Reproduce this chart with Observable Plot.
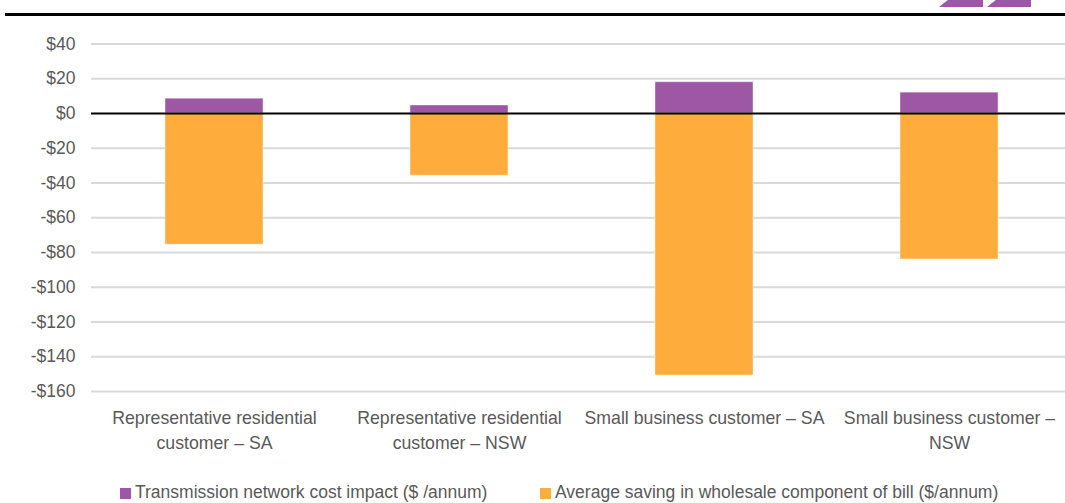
<!DOCTYPE html>
<html><head><meta charset="utf-8">
<script src="https://cdn.jsdelivr.net/npm/d3@7"></script>
<script src="https://cdn.jsdelivr.net/npm/@observablehq/plot@0.6"></script>
<style>
body{margin:0;background:#fff;font-family:"Liberation Sans",Arial,sans-serif;}
#wrap{position:relative;width:1065px;height:503px;overflow:hidden;}
#topline{position:absolute;left:5px;top:13px;width:1060px;height:3px;background:#000;}
.logo{position:absolute;top:0;height:7px;background:#9e57a4;}
#chart{position:absolute;left:0;top:0;}
#legend{position:absolute;top:482px;left:0;width:1065px;font-size:17.5px;color:#595959;}
.li{position:absolute;white-space:nowrap;line-height:20px;}
.sw{display:inline-block;width:11px;height:11px;margin-right:4px;vertical-align:-1px;}
</style></head>
<body>
<div id="wrap">
  <div id="chart"></div>
  <div id="topline"></div>
  <div class="logo" style="left:939px;width:44px;clip-path:polygon(20% 0,100% 0,100% 100%,0 100%)"></div>
  <div class="logo" style="left:987px;width:44px;clip-path:polygon(20% 0,100% 0,100% 100%,0 100%)"></div>
  <div id="legend"></div>
</div>
<script>
const categories = [
  "Representative residential\ncustomer – SA",
  "Representative residential\ncustomer – NSW",
  "Small business customer – SA",
  "Small business customer –\nNSW"
];
const seriesNames = [
  "Transmission network cost impact ($ /annum)",
  "Average saving in wholesale component of bill ($/annum)"
];
const transmission = [8.5, 4.6, 18, 12];
const wholesale = [-75.5, -35.8, -150.8, -84];
const yTicks = [40, 20, 0, -20, -40, -60, -80, -100, -120, -140, -160];
const colors = ["#9e57a4", "#feac3b"];

const data = [];
categories.forEach((c, i) => {
  data.push({cat: c, series: seriesNames[0], value: transmission[i]});
  data.push({cat: c, series: seriesNames[1], value: wholesale[i]});
});

const fmt = v => v < 0 ? "-$" + (-v) : "$" + v;

const plot = Plot.plot({
  width: 1065,
  height: 465,
  marginTop: 43.5,
  marginBottom: 74,
  marginLeft: 91,
  marginRight: 0,
  style: {fontFamily: "'Liberation Sans', Arial, sans-serif", fontSize: "17px", color: "#595959", background: "transparent"},
  x: {domain: categories, range: [91, 1071], paddingInner: 0.6, paddingOuter: 0.3, align: 0.5},
  y: {domain: [-160, 40]},
  color: {domain: seriesNames, range: colors},
  marks: [
    Plot.ruleY(yTicks.filter(d => d !== 0), {stroke: "#d9d9d9", strokeWidth: 2}),
    Plot.barY(data, {x: "cat", y: "value", fill: "series", stroke: "#fff", strokeOpacity: 0.4, strokeWidth: 1}),
    Plot.ruleY([0], {stroke: "#000", strokeWidth: 2.2}),
    Plot.axisY({ticks: yTicks, tickFormat: fmt, tickSize: 0, tickPadding: 16, fill: "#595959", fontSize: 17.5, label: null}),
    Plot.axisX({tickSize: 0, tickPadding: 15, fill: "#595959", fontSize: 17.7, lineHeight: 1.42, label: null})
  ]
});
document.getElementById("chart").appendChild(plot);

const legend = document.getElementById("legend");
const pos = [120, 540];
seriesNames.forEach((s, i) => {
  const d = document.createElement("div");
  d.className = "li";
  d.style.left = pos[i] + "px";
  d.innerHTML = `<span class="sw" style="background:${colors[i]}"></span>${s}`;
  legend.appendChild(d);
});
</script>
</body></html>
